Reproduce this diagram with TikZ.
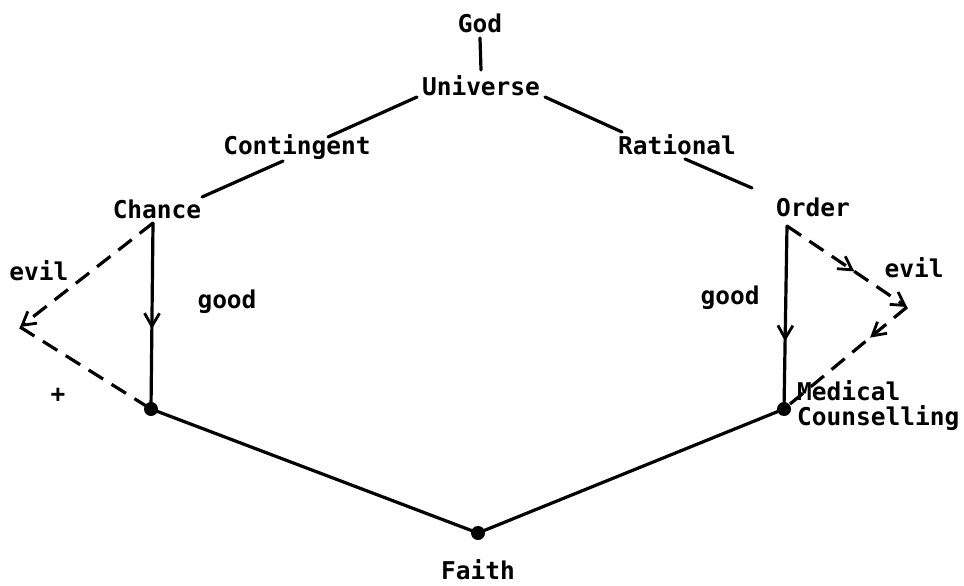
\documentclass[tikz,border=0pt]{standalone}
\usepackage{fontspec}
\setmonofont{DejaVu Sans Mono}
\usetikzlibrary{arrows.meta,decorations.markings}
\tikzset{
  lbl/.style={inner sep=0pt,font=\ttfamily\bfseries\fontsize{24.5}{26}\selectfont},
  ln/.style={line width=3.2pt,line cap=round},
  dsh/.style={line width=3.2pt,dash pattern=on 17pt off 10pt},
  vtip/.tip={Straight Barb[length=13pt,width=15pt,line width=2.8pt]},
  midarrow/.style={postaction={decorate},decoration={markings,mark=at position #1 with {\arrow{vtip}}}},
  dot/.style={circle,fill=black,inner sep=0pt,minimum size=14pt}
}
\begin{document}
\begin{tikzpicture}[x=1pt,y=-1pt]
\useasboundingbox (0,0) rectangle (964,586);
% labels
\node[lbl] (god) at (480,23) {God};
\node[lbl] (univ) at (481,86) {Universe};
\node[lbl] (cont) at (297,147) {Contingent};
\node[lbl] (rat) at (677,145) {Rational};
\node[lbl] (chance) at (157,209) {Chance};
\node[lbl] (order) at (813,207) {Order};
\node[lbl] (evilL) at (39,271) {evil};
\node[lbl] (goodL) at (227,302) {good};
\node[lbl] (goodR) at (730,298) {good};
\node[lbl] (evilR) at (914,268) {evil};
\node[lbl] (plus) at (58,395) {+};
\node[lbl,anchor=west] (med) at (797,391) {Medical};
\node[lbl,anchor=west] (couns) at (797,418) {Counselling};
\node[lbl] (faith) at (478,570) {Faith};
% connector end points
\coordinate (gb) at (480,38);
\coordinate (ut) at (481,70);
\coordinate (ul) at (417,97);
\coordinate (ct) at (328,137);
\coordinate (cb) at (283,161);
\coordinate (cht) at (202,197);
\coordinate (ur) at (545,97);
\coordinate (rt) at (622,132);
\coordinate (rb) at (685,159);
\coordinate (ot) at (752,188);
\coordinate (chs) at (153,223);
\coordinate (os) at (787,226);
\coordinate (lv) at (20,327);
\coordinate (rv) at (907,307);
\node[dot] (chd) at (151,409) {};
\node[dot] (md) at (784,409) {};
\node[dot] (fd) at (478,533) {};
% tree lines
\draw[ln] (gb) -- (ut);
\draw[ln] (ul) -- (ct);
\draw[ln] (cb) -- (cht);
\draw[ln] (ur) -- (rt);
\draw[ln] (rb) -- (ot);
% good arrows
\draw[ln,midarrow=0.57] (chs) -- (chd.center);
\draw[ln,midarrow=0.63] (os) -- (md.center);
% evil dashed paths
\draw[dsh,-{vtip}] (chs) -- (lv);
\draw[dsh] (lv) -- (chd.center);
\draw[dsh,-{vtip},midarrow=0.56] (os) -- (rv);
\draw[dsh,midarrow=0.3] (rv) -- (md.center);
% faith lines
\draw[ln] (chd.center) -- (fd.center);
\draw[ln] (fd.center) -- (md.center);
\end{tikzpicture}
\end{document}
